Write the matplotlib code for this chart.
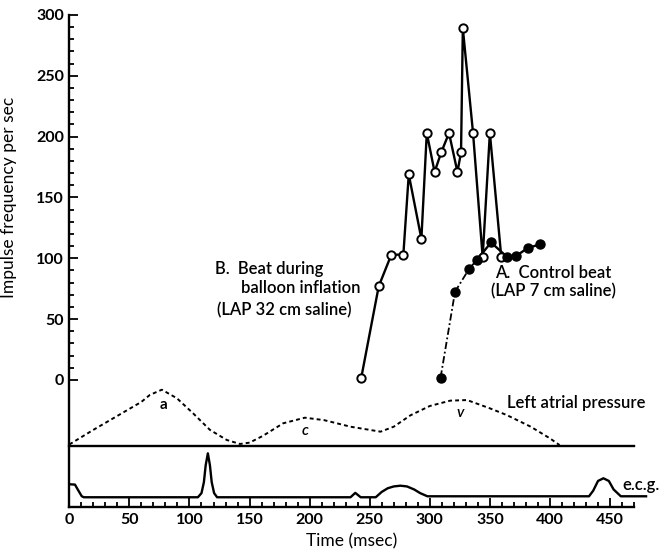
import numpy as np
import matplotlib.pyplot as plt
from matplotlib.ticker import FixedLocator

plt.rcParams['font.family'] = ['Lato', 'DejaVu Sans']
plt.rcParams['font.weight'] = 'semibold'

# B. beat during balloon inflation (open circles)
b_t = [243, 257.5, 268, 278, 282.5, 293, 297.5, 304, 309.5, 316, 323, 326, 327.5, 336, 344, 350, 359.5]
b_f = [2, 77, 103, 103, 169, 116, 203, 171, 187, 203, 171, 187, 289, 203, 101, 203, 101]

# A. control beat (filled circles)
a_t = [309, 321, 332.5, 339, 351, 364.5, 372, 381.5, 392]
a_f = [2, 72.5, 91, 98.5, 113, 101, 102, 108.5, 111.5]

# left atrial pressure trace (drawn below zero, arbitrary units)
lap_t = [0, 20, 40, 60, 67, 77, 89.5, 103, 117, 131, 142, 150, 161, 178, 196, 212, 234, 259,
         270, 284, 300, 317, 331, 350, 364, 384, 400, 408]
lap_y = [-53, -41, -29.5, -18, -12.3, -8, -15, -27.4, -41, -49.3, -52.6, -51.5, -46, -35.6, -31,
         -33, -38.4, -42.5, -38.4, -29, -21.4, -17, -16.5, -23.3, -28.8, -38.4, -48, -53.5]
lap_base = -54.2

# e.c.g. trace
ecg_t = [0, 4.7, 7, 10.3, 12, 107, 110, 112, 113.5, 115.3, 117, 118.5, 120.5, 123, 234, 238, 242.5,
         255, 260, 265, 270, 275.6, 281, 287, 292, 298, 432.5, 436, 440, 444.5, 449, 453, 459, 480]
ecg_y = [-85.7, -86, -90, -95.5, -96.4, -96.4, -93, -84, -70, -60.3, -70, -84, -93, -96.4, -96.4,
         -92.8, -96.4, -96.4, -92, -89, -87.5, -86.9, -87.5, -90, -93, -95.6, -95.6, -91, -83,
         -80.8, -83, -90, -95.6, -95.6]

fig = plt.figure(figsize=(6.64, 5.55), dpi=100)
ax = fig.add_axes([0.1044, 0.0865, 0.8505, 0.8865])

ax.plot(b_t, b_f, '-o', color='black', lw=1.7, ms=6, mfc='white', mec='black', mew=1.4, zorder=3)
ax.plot(a_t[:4], a_f[:4], color='black', lw=1.3, ls=(0, (4, 1.5, 1, 1.5)), zorder=2)
ax.plot(a_t[3:], a_f[3:], color='black', lw=1.7, zorder=2)
ax.plot(a_t, a_f, 'o', color='black', ms=6.5, zorder=4)

ax.plot(lap_t, lap_y, color='black', lw=1.4, ls=(0, (2, 1.6)))
ax.plot([0, 470], [lap_base, lap_base], color='black', lw=1.7, clip_on=False)
ax.plot(ecg_t, ecg_y, color='black', lw=1.7, clip_on=False)

ax.set_xlim(0, 470)
ax.set_ylim(-104.4, 300)
for s in ['top', 'right']:
    ax.spines[s].set_visible(False)
for s in ['left', 'bottom']:
    ax.spines[s].set_linewidth(1.7)

ax.set_xticks(np.arange(0, 451, 50))
ax.xaxis.set_minor_locator(FixedLocator(np.arange(0, 471, 10)))
ax.set_yticks(np.arange(0, 301, 50))
ax.yaxis.set_minor_locator(FixedLocator(np.arange(0, 301, 10)))
ax.tick_params(which='both', direction='in', width=1.3, labelsize=11.5)
ax.tick_params(which='major', length=6.5, pad=4)
ax.tick_params(which='minor', length=3.3)
for lab in ax.get_xticklabels() + ax.get_yticklabels():
    lab.set_fontweight('bold')

ax.set_xlabel('Time (msec)', fontsize=12.5, labelpad=5)
ax.set_ylabel('Impulse frequency per sec', fontsize=12.5)
ax.yaxis.set_label_coords(-0.093, 0.63)

fs = 12
ax.text(121, 91, 'B.  Beat during', fontsize=fs, va='center')
ax.text(143, 75.6, 'balloon inflation', fontsize=fs, va='center')
ax.text(123, 57.5, '(LAP 32 cm saline)', fontsize=fs, va='center')
ax.text(354, 88, 'A.  Control beat', fontsize=fs, va='center')
ax.text(351, 73, '(LAP 7 cm saline)', fontsize=fs, va='center')
ax.text(364, -19, 'Left atrial pressure', fontsize=fs, va='center')
ax.text(460, -86.3, 'e.c.g.', fontsize=fs, va='center', clip_on=False)
ax.text(78, -20.5, 'a', fontsize=11, ha='center', va='center', fontweight='bold')
ax.text(196, -41.7, 'c', fontsize=11, ha='center', va='center', style='italic')
ax.text(325, -27, 'v', fontsize=11, ha='center', va='center', style='italic')

fig.savefig('out.png', dpi=100)
